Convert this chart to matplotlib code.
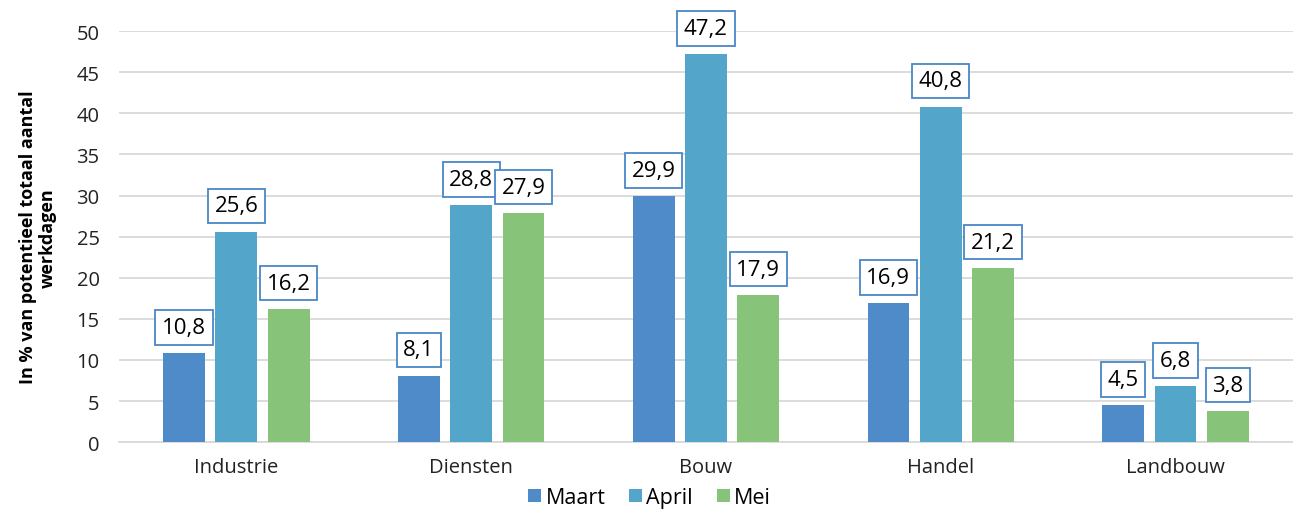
import numpy as np
import matplotlib
matplotlib.use('Agg')
from matplotlib import pyplot as plt

sectors = ["Industrie", "Diensten", "Bouw", "Handel", "Landbouw"]
months = ["Maart", "April", "Mei"]
maart = [10.8, 8.1, 29.9, 16.9, 4.5]
april = [25.6, 28.8, 47.2, 40.8, 6.8]
mei = [16.2, 27.9, 17.9, 21.2, 3.8]

colours = ["#4f8bc9", "#53a6c9", "#87c47a"]

plt.rcParams['font.family'] = ['Open Sans', 'DejaVu Sans']

fig = plt.figure(figsize=(12.93, 5.10), dpi=100)
ax = fig.add_axes([0.092, 0.131, 0.908, 0.806])

x = np.arange(len(sectors))
w = 0.178
step = 0.223
for i, (vals, c, lab) in enumerate(zip([maart, april, mei], colours, months)):
    pos = x + (i - 1) * step
    ax.bar(pos, vals, width=w, color=c, label=lab, zorder=3)
    for px, v in zip(pos, vals):
        ax.annotate(f"{v:.1f}".replace(".", ","), (px, v), xytext=(0, 11),
                    textcoords="offset points", ha="center", va="bottom",
                    fontsize=16, zorder=4,
                    bbox=dict(boxstyle="square,pad=0.3", fc="white",
                              ec="#4a86c8", lw=1.3))

ax.set_xlim(-0.5, 4.5)
ax.set_ylim(0, 50)
ax.set_yticks(range(0, 51, 5))
ax.set_xticks(x)
ax.set_xticklabels(sectors)
ax.tick_params(axis='both', length=0, labelsize=14.5, colors="#222222")
ax.tick_params(axis='x', pad=11)
ax.tick_params(axis='y', pad=14)
ax.yaxis.grid(True, color="#d9d9d9", lw=1.3, zorder=0)
for s in ["top", "right", "left"]:
    ax.spines[s].set_visible(False)
ax.spines["bottom"].set_color("#d9d9d9")
ax.spines["bottom"].set_linewidth(1.3)

ax.set_ylabel("In % van potentieel totaal aantal\nwerkdagen", fontsize=13,
              fontweight="bold", linespacing=1.1, va="center")
ax.yaxis.set_label_coords(-0.069, 0.5)

# legend sits centred on the whole figure, not on the plot area
ax.legend(loc="upper center", bbox_to_anchor=(0.452, -0.083), ncol=3, frameon=False,
          fontsize=15.5, handlelength=0.6, handleheight=0.6, handletextpad=0.2,
          columnspacing=1.1, borderpad=0)

plt.savefig("out.png", dpi=100)
